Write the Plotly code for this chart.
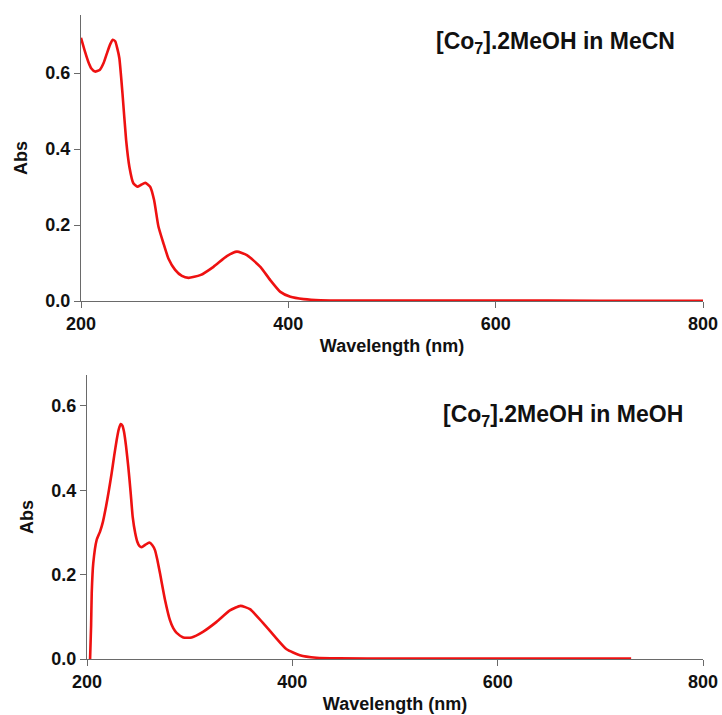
import plotly.graph_objects as go

# ---- data ----
wl_mecn = [200, 204, 207, 210, 213.5, 218, 222, 225, 228, 230.6, 233, 235, 237, 240, 243.5,
           246.7, 250.5, 254.4, 258, 262, 266.7, 270.5, 274.7, 279.5, 284.3, 290.8, 297.3,
           303.7, 315, 327.8, 340.7, 350.4, 360, 373, 382.6, 392.3, 402, 414.8, 431, 460,
           520, 600, 700, 800]
abs_mecn = [0.693, 0.655, 0.630, 0.612, 0.604, 0.608, 0.628, 0.652, 0.675, 0.688, 0.684, 0.665,
            0.639, 0.547, 0.424, 0.353, 0.310, 0.301, 0.306, 0.311, 0.301, 0.266, 0.196, 0.152,
            0.112, 0.082, 0.066, 0.061, 0.068, 0.090, 0.118, 0.130, 0.121, 0.090, 0.055, 0.024,
            0.011, 0.005, 0.002, 0.0012, 0.001, 0.001, 0.0008, 0.0008]

wl_meoh = [203, 204, 204.6, 206.1, 209.4, 212.7, 215.5, 218.5, 221, 224, 226.5, 228.9, 231,
           232.8, 234.5, 236, 238, 240.2, 242.5, 244.5, 247, 249, 251, 253.2, 257, 260.7,
           263.5, 266.2, 268.5, 271.1, 276, 280.8, 284, 287.3, 293.8, 301.9, 313.3, 326.2,
           339.2, 349.5, 358.7, 371.6, 383, 394.4, 407.3, 423.6, 445, 500, 600, 730]
abs_meoh = [0.0, 0.08, 0.156, 0.227, 0.282, 0.302, 0.325, 0.361, 0.395, 0.440, 0.482, 0.519,
            0.545, 0.557, 0.553, 0.539, 0.505, 0.456, 0.395, 0.337, 0.298, 0.278, 0.268, 0.265,
            0.271, 0.276, 0.270, 0.258, 0.235, 0.203, 0.140, 0.092, 0.073, 0.062, 0.051, 0.051,
            0.065, 0.088, 0.115, 0.126, 0.118, 0.085, 0.053, 0.023, 0.009, 0.003, 0.0015,
            0.001, 0.001, 0.001]

x_ticks = [200, 400, 600, 800]
y_ticks = [0.0, 0.2, 0.4, 0.6]
y_tick_text = ["0.0", "0.2", "0.4", "0.6"]
titles = ["[Co<sub>7</sub>].2MeOH in MeCN", "[Co<sub>7</sub>].2MeOH in MeOH"]
x_title = "Wavelength (nm)"
y_title = "Abs"

# body margin is removed by post_script, so the figure fills the window
W, H = 722, 715
FONT = "Liberation Sans, Arial, sans-serif"
RED = "#ee1111"
AX = "#6a6a6a"


def fx(px):
    return px / W


def fy(py):
    return 1 - py / H


fig = go.Figure()
fig.add_trace(go.Scatter(x=wl_mecn, y=abs_mecn, mode="lines", xaxis="x", yaxis="y",
                         line=dict(color=RED, width=2.6, shape="spline", smoothing=0.5),
                         showlegend=False))
fig.add_trace(go.Scatter(x=wl_meoh, y=abs_meoh, mode="lines", xaxis="x2", yaxis="y2",
                         line=dict(color=RED, width=2.6, shape="spline", smoothing=0.5),
                         showlegend=False))

tickfont = dict(family=FONT, size=18, color="#111", weight=700)
titlefont = dict(family=FONT, size=18, color="#111", weight=700)


def xax(domain, anchor):
    return dict(domain=domain, anchor=anchor, range=[200, 800], tickvals=x_ticks,
                showline=True, linecolor=AX, linewidth=1.3, ticks="outside", ticklen=6,
                tickcolor=AX, tickwidth=1.3, showgrid=False, zeroline=False, automargin=False,
                tickfont=tickfont, title=dict(text=x_title, font=titlefont, standoff=6))


def yax(domain, anchor, top):
    return dict(domain=domain, anchor=anchor, range=[0, top], tickvals=y_ticks,
                ticktext=y_tick_text, showline=True, linecolor=AX, linewidth=1.3,
                ticks="outside", ticklen=6, tickcolor=AX, tickwidth=1.3, showgrid=False,
                zeroline=False, tickfont=tickfont, automargin=False,
                title=dict(text=y_title, font=titlefont, standoff=12))


fig.update_layout(
    width=W, height=H, margin=dict(l=0, r=0, t=0, b=0, autoexpand=False),
    paper_bgcolor="white", plot_bgcolor="white",
    xaxis=xax([fx(81), fx(703)], "y"),
    yaxis=yax([fy(301), fy(15)], "x", 0.753),
    xaxis2=xax([fx(87), fx(703)], "y2"),
    yaxis2=yax([fy(659), fy(375)], "x2", 0.673),
    annotations=[
        dict(text=titles[0], xref="paper", yref="paper", x=fx(555), y=fy(42),
             xanchor="center", yanchor="middle", showarrow=False,
             font=dict(family=FONT, size=23, color="#111", weight=700)),
        dict(text=titles[1], xref="paper", yref="paper", x=fx(563), y=fy(415),
             xanchor="center", yanchor="middle", showarrow=False,
             font=dict(family=FONT, size=23, color="#111", weight=700)),
    ],
)

fig.write_html("out.html", config={"displayModeBar": False},
               post_script="document.body.style.margin='0';document.body.style.overflow='hidden';")
